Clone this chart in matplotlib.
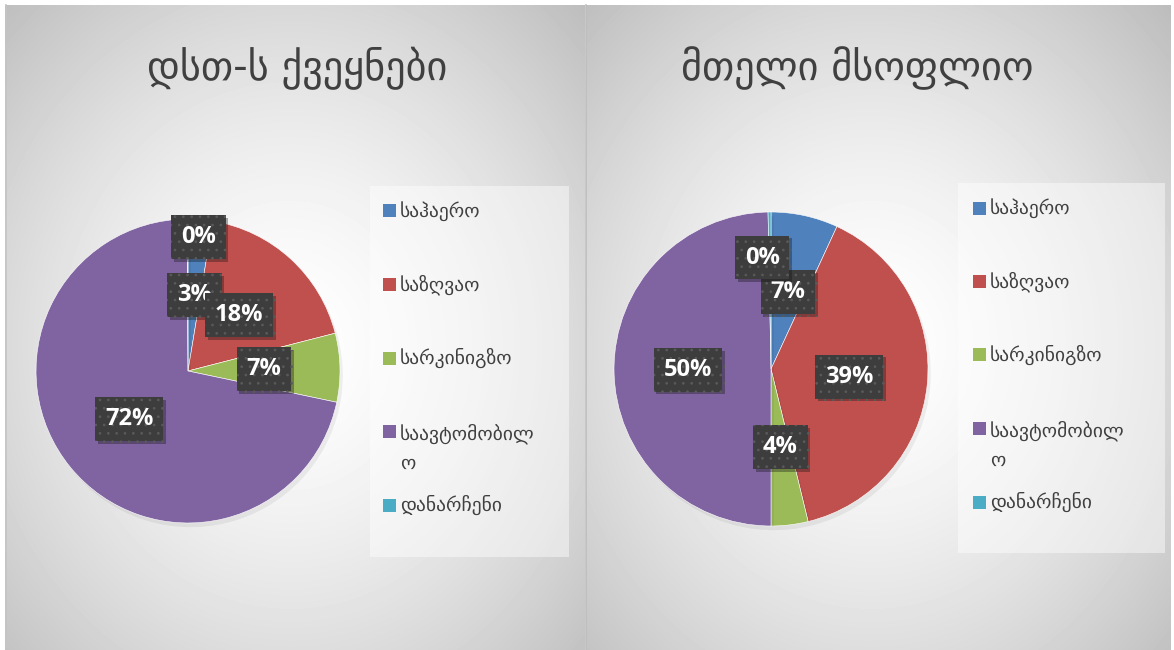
import numpy as np
import matplotlib.pyplot as plt
from matplotlib.patches import Rectangle
import matplotlib.patheffects as pe

# data
categories = ['საჰაერო', 'საზღვაო', 'სარკინიგზო', 'საავტომობილო', 'დანარჩენი']
legend_labels = ['საჰაერო', 'საზღვაო', 'სარკინიგზო', 'საავტომობილ\nო', 'დანარჩენი']
cis_share = [2.6, 18.4, 7.3, 71.6, 0.1]
world_share = [6.9, 39.3, 3.8, 49.7, 0.3]
titles = ['დსთ-ს ქვეყნები', 'მთელი მსოფლიო']
colors = ['#4F81BD', '#C0504D', '#9BBB59', '#8064A2', '#4BACC6']

plt.rcParams['hatch.linewidth'] = 0.7

W, H = 1174, 650
fig = plt.figure(figsize=(W / 100, H / 100), dpi=100)
fig.patch.set_facecolor('white')


def fx(x):
    return x / W


def fy(y):
    return 1 - y / H


def panel_bg(x0, x1, cx, cy):
    # radial grey gradient behind each chart
    pw, ph = x1 - x0, H - 5
    ax = fig.add_axes([fx(x0), 0, (x1 - x0) / W, ph / H])
    xx, yy = np.meshgrid(np.arange(pw), np.arange(ph))
    d = np.sqrt(((xx - cx) / 340.0) ** 2 + ((yy - cy) / 390.0) ** 2)
    v = 1 - 0.19 * np.clip(d, 0, 1.4) ** 1.5
    ax.imshow(v, cmap='gray', vmin=0, vmax=1, aspect='auto',
              interpolation='bilinear')
    ax.set_axis_off()


panel_bg(5, 585, 285, 340)
panel_bg(586, 1171, 285, 340)
fig.add_artist(plt.Line2D([fx(585.5)] * 2, [0, fy(5)], color='#bdbdbd', lw=1.2))
fig.add_artist(plt.Line2D([fx(5.5)] * 2, [0, fy(5)], color='#c4c4c4', lw=1.2))


def draw_pie(rect, values, title, title_x, label_r, label_dx, leg_box, leg_x, row0):
    ax = fig.add_axes(rect)
    wedges, _, autotexts = ax.pie(
        values, colors=colors, startangle=90, counterclock=False,
        autopct='%.0f%%', pctdistance=0.5,
        wedgeprops=dict(edgecolor='white', linewidth=0.4))
    ax.set_xlim(-1, 1)
    ax.set_ylim(-1, 1)
    ax.set_aspect('equal')
    for w in wedges:
        w.set_path_effects([pe.SimplePatchShadow(offset=(2, -3), shadow_rgbFace='#000000',
                                                 alpha=0.06), pe.Normal()])
    for w, t, r, dx in zip(wedges, autotexts, label_r, label_dx):
        ang = np.deg2rad((w.theta1 + w.theta2) / 2)
        t.set_position((r * np.cos(ang) + dx, r * np.sin(ang)))
        t.set_color('white')
        t.set_fontsize(17)
        t.set_fontweight('bold')
        t.set_family('Open Sans')
        t.set_bbox(dict(boxstyle='square,pad=0.42', facecolor='#3d3d3d',
                        edgecolor='#5a5a5a', linewidth=0, hatch='..'))
        t.get_bbox_patch().set_path_effects(
            [pe.SimplePatchShadow(offset=(2, -2), alpha=0.35), pe.Normal()])

    fig.text(fx(title_x), fy(68), title, ha='center', va='center',
             fontsize=29, color='#404040', family='DejaVu Sans')

    # legend box
    lx0, ly0, lx1, ly1 = leg_box
    fig.add_artist(Rectangle((fx(lx0), fy(ly1)), (lx1 - lx0) / W, (ly1 - ly0) / H,
                             transform=fig.transFigure, facecolor='white',
                             alpha=0.45, edgecolor='none'))
    for i, (lab, c) in enumerate(zip(legend_labels, colors)):
        y = row0 + i * 73.5
        fig.add_artist(Rectangle((fx(leg_x - 17), fy(y + 6.5)), 13 / W, 13 / H,
                                 transform=fig.transFigure, facecolor=c,
                                 edgecolor='none'))
        n = lab.count('\n')
        fig.text(fx(leg_x), fy(y + n * 33 / 2), lab, ha='left', va='center',
                 fontsize=14, color='#404040', linespacing=1.65,
                 family='DejaVu Sans')


draw_pie([fx(36), fy(523), 304 / W, 304 / H], cis_share, titles[0], 297,
         [0.5, 0.5, 0.5, 0.5, 0.88], [0, 0, 0, 0, 0.07],
         (370, 186, 569, 557), 400, 211)
draw_pie([fx(614), fy(526), 314 / W, 314 / H], world_share, titles[1], 857,
         [0.5, 0.5, 0.5, 0.53, 0.71], [0, 0, 0, 0, -0.05],
         (958, 183, 1165, 553), 990, 208)

fig.savefig('out.png', dpi=100)
